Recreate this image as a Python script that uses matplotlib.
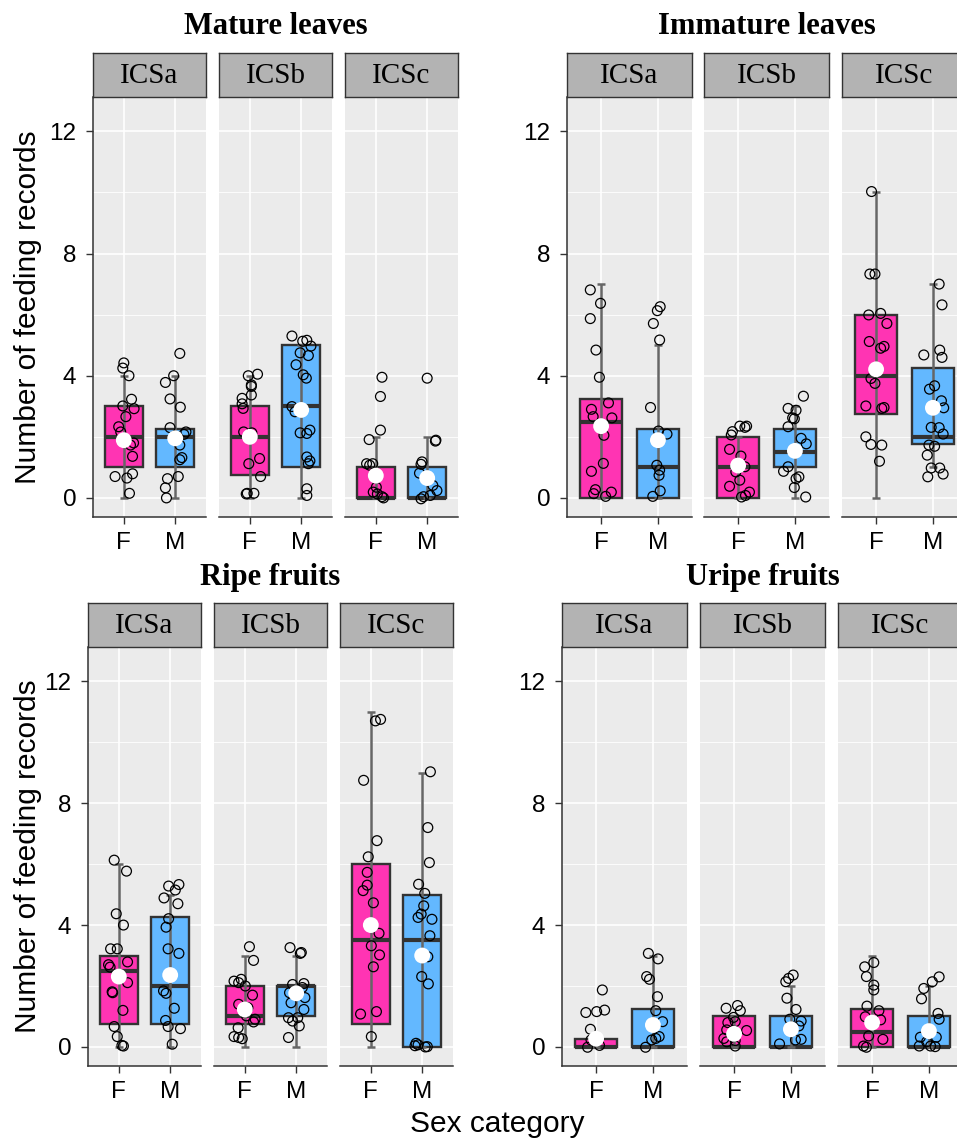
import matplotlib
matplotlib.use("Agg")
import matplotlib.pyplot as plt

W, H, DPI = 957, 1140, 100

sites = ["ICSa", "ICSb", "ICSc"]
sexes = ["F", "M"]
yticks = [0, 4, 8, 12]
yminor = [2, 6, 10]
titles = ["Mature leaves", "Immature leaves", "Ripe fruits", "Uripe fruits"]

# box stats per site: (whisker low, q1, median, q3, whisker high, mean)
mature_F_box = [(0, 1, 2, 3, 4, 1.89), (0, 0.75, 2, 3, 4, 2.0), (0, 0, 0, 1, 2, 0.73)]
mature_M_box = [(0, 1, 2, 2.25, 4, 1.95), (0, 1, 3, 5, 5, 2.88), (0, 0, 0, 1, 2, 0.65)]
immature_F_box = [(0, 0, 2.5, 3.25, 7, 2.35), (0, 0, 1, 2, 2, 1.06), (0, 2.75, 4, 6, 10, 4.21)]
immature_M_box = [(0, 0, 1, 2.25, 5, 1.89), (0, 1, 1.5, 2.25, 3, 1.54), (1, 1.75, 2, 4.25, 7, 2.95)]
ripe_F_box = [(0, 0.75, 2.5, 3, 6, 2.31), (0, 0.75, 1, 2, 3, 1.23), (0, 0.75, 3.5, 6, 11, 4.0)]
ripe_M_box = [(0, 0.75, 2, 4.25, 5, 2.36), (0, 1, 2, 2, 3, 1.76), (0, 0, 3.5, 5, 9, 3.0)]
unripe_F_box = [(0, 0, 0, 0.25, 0.25, 0.27), (0, 0, 0, 1, 1, 0.43), (0, 0, 0.5, 1.25, 3, 0.8)]
unripe_M_box = [(0, 0, 0, 1.25, 3, 0.72), (0, 0, 0, 1, 2, 0.58), (0, 0, 0, 1, 2, 0.52)]

# jittered points (values as drawn) and their horizontal jitter, per site
mature_F_y = [
    [4.42, 4.25, 4.0, 3.23, 3.01, 2.92, 2.66, 2.33, 2.16, 1.80, 1.73, 1.36, 0.70, 0.65, 0.79, 0.15],
    [4.0, 4.05, 3.70, 3.65, 3.37, 3.26, 3.08, 2.93, 2.16, 2.13, 1.12, 1.29, 0.70, 0.15, 0.15, 0.13],
    [3.95, 3.32, 2.22, 1.91, 1.12, 1.12, 1.07, 0.35, 0.13, 0.04, 0.0, 0.19]]
mature_F_dx = [
    [0, -0.02, 0.1, 0.15, -0.02, 0.2, 0.04, -0.1, -0.06, 0.19, 0.13, 0.17, -0.17, 0.06, 0.17, 0.11],
    [-0.03, 0.15, 0.03, 0.03, 0.03, -0.15, -0.15, -0.13, -0.12, 0.04, -0.02, 0.19, 0.21, -0.05, 0.08, -0.07],
    [0.12, 0.09, 0.09, -0.13, -0.18, -0.06, -0.12, 0.01, 0.03, 0.12, 0.15, -0.05]]
mature_M_y = [
    [4.73, 4.0, 3.78, 3.24, 2.97, 2.30, 2.16, 2.08, 1.73, 1.32, 1.25, 0.70, 0.63, 0.33, 0.0],
    [5.30, 5.13, 5.16, 4.97, 4.75, 4.66, 4.36, 4.03, 3.92, 2.99, 2.82, 2.13, 2.22, 2.11, 1.34, 1.21, 1.12, 0.30, 0.08],
    [3.92, 1.89, 1.86, 1.18, 1.10, 0.81, 0.41, 0.24, 0.04, -0.03, 0.08]]
mature_M_dx = [
    [0.09, -0.03, -0.19, -0.10, 0.10, -0.10, 0.21, 0.17, 0.09, 0.13, 0.09, 0.06, -0.15, -0.19, -0.17],
    [-0.18, 0.03, 0.11, 0.19, -0.02, 0.14, -0.10, 0.04, 0.10, -0.18, -0.12, -0.02, 0.17, 0.11, 0.11, 0.17, 0.14, 0.11, 0.11],
    [0.0, 0.17, 0.16, -0.10, -0.12, -0.15, 0.11, 0.19, -0.07, -0.12, 0.06]]

immature_F_y = [
    [6.81, 6.37, 5.87, 4.84, 3.95, 3.11, 2.90, 2.66, 2.62, 2.05, 1.13, 0.87, 0.27, 0.19, 0.14, 0.05],
    [2.35, 2.35, 2.31, 2.17, 2.06, 1.59, 1.37, 1.02, 0.85, 0.58, 0.38, 0.19, 0.08, 0.03],
    [10.03, 7.33, 7.33, 5.99, 6.04, 5.71, 5.12, 4.90, 4.96, 3.91, 3.75, 3.01, 2.93, 2.96, 2.0, 1.75, 1.73, 1.20]]
immature_F_dx = [
    [-0.19, -0.01, -0.19, -0.09, -0.03, 0.13, -0.17, -0.14, 0.19, 0.05, 0.04, -0.17, -0.10, 0.18, -0.13, 0.08],
    [0.03, 0.15, 0.12, -0.10, -0.12, -0.15, 0.05, 0.12, -0.04, 0.03, -0.15, 0.20, 0.13, 0.06],
    [-0.08, -0.11, -0.02, -0.13, 0.08, 0.19, -0.12, 0.08, 0.14, -0.09, -0.02, -0.18, 0.10, 0.14, -0.18, -0.09, 0.10, 0.06]]
immature_M_y = [
    [6.26, 6.13, 5.71, 5.17, 2.96, 2.19, 2.09, 1.07, 0.91, 0.74, 0.23, 0.05],
    [3.33, 2.93, 2.87, 2.62, 2.59, 2.33, 1.95, 1.77, 0.87, 1.02, 0.63, 0.69, 0.34, 0.03],
    [7.0, 6.32, 4.68, 4.84, 4.60, 3.56, 3.67, 3.18, 2.95, 2.31, 2.30, 2.09, 1.69, 1.73, 1.40, 0.98, 0.98, 0.69, 0.78]]
immature_M_dx = [
    [0.04, -0.01, -0.08, 0.03, -0.13, 0.01, 0.16, -0.02, 0.03, 0.02, 0.04, -0.09],
    [0.15, -0.12, 0.02, -0.04, -0.01, -0.12, 0.11, 0.20, -0.20, -0.12, 0.02, 0.07, -0.01, 0.19],
    [0.11, 0.16, -0.16, 0.12, 0.16, -0.06, 0.03, 0.15, 0.19, -0.03, 0.11, 0.18, 0.03, -0.07, -0.10, -0.03, 0.12, -0.09, 0.18]]

ripe_F_y = [
    [6.13, 5.77, 4.37, 4.0, 3.22, 3.22, 2.79, 2.70, 2.62, 2.11, 1.81, 1.78, 1.20, 0.67, 0.34, 0.05, 0.03],
    [3.29, 2.84, 2.16, 2.22, 2.11, 2.0, 1.70, 1.40, 1.29, 1.02, 0.91, 0.82, 0.63, 0.34, 0.31, 0.27],
    [10.75, 10.70, 8.75, 6.77, 6.24, 5.73, 5.31, 5.13, 4.73, 3.73, 3.32, 3.02, 2.63, 1.08, 1.16, 0.34]]
ripe_F_dx = [
    [-0.09, 0.15, -0.05, 0.09, -0.16, -0.03, 0.17, -0.2, -0.17, 0.17, -0.13, -0.12, 0.08, -0.09, -0.03, 0.06, 0.09],
    [0.09, 0.17, -0.21, -0.07, -0.12, 0.01, 0.15, -0.12, 0.06, 0.03, 0.2, 0.17, -0.13, -0.21, -0.12, -0.05],
    [0.19, 0.09, -0.14, 0.12, -0.05, -0.07, -0.07, -0.15, 0.05, 0.16, 0.01, 0.17, 0.05, -0.2, 0.11, 0.01]]
ripe_M_y = [
    [5.33, 5.28, 5.15, 4.89, 4.70, 4.21, 3.93, 3.22, 3.07, 1.84, 1.76, 1.27, 0.87, 0.67, 0.60, 0.09],
    [3.26, 3.07, 3.10, 2.05, 2.08, 1.95, 1.78, 1.62, 1.45, 1.23, 0.96, 0.85, 0.69, 0.96, 0.31],
    [9.03, 7.2, 6.05, 5.34, 5.04, 4.63, 4.36, 4.25, 4.19, 3.65, 2.96, 2.31, 2.07, 0.12, 0.07, 0.0, 0.01, 0.04]]
ripe_M_dx = [
    [0.17, -0.03, 0.10, -0.12, 0.15, -0.03, -0.08, -0.04, 0.17, -0.13, -0.08, 0.08, -0.09, -0.04, 0.20, 0.04],
    [-0.12, 0.08, 0.10, -0.07, 0.15, 0.12, -0.13, 0.17, -0.10, 0.15, -0.15, -0.07, 0.06, 0.03, -0.15],
    [0.16, 0.11, 0.14, -0.07, 0.05, 0.03, -0.02, -0.08, 0.19, 0.15, 0.11, -0.01, 0.12, -0.12, -0.08, 0.06, 0.10, -0.14]]

unripe_F_y = [
    [1.87, 1.13, 1.16, 1.21, 0.58, 0.23, -0.01, 0.05],
    [1.36, 1.27, 1.19, 0.97, 0.80, 0.83, 0.56, 0.54, 0.28, 0.21, 0.03, 0.17],
    [2.77, 2.63, 2.31, 2.03, 1.87, 1.34, 1.19, 0.99, 0.89, 0.36, 0.25, 0.03, -0.01]]
unripe_F_dx = [
    [0.11, -0.18, 0.01, 0.15, -0.1, -0.09, -0.15, 0.06],
    [0.06, -0.14, 0.11, -0.01, -0.11, 0.02, -0.13, 0.22, -0.18, 0.02, 0.02, -0.13],
    [0.03, -0.13, -0.1, 0.03, 0.03, -0.09, 0.12, -0.12, 0.15, -0.06, 0.19, -0.15, -0.1]]
unripe_M_y = [
    [3.07, 2.89, 2.31, 2.22, 1.65, 1.19, 0.83, 0.34, 0.28, 0.23, -0.01],
    [2.36, 2.25, 2.14, 1.60, 1.23, 0.91, 0.85, 0.69, 0.23, 0.10, 0.25],
    [2.30, 2.14, 1.92, 1.58, 1.10, 0.91, 0.32, 0.32, 0.03, 0.01, 0.03, 0.17]]
unripe_M_dx = [
    [-0.08, 0.09, -0.11, -0.06, 0.08, 0.05, 0.17, 0.11, 0.05, -0.02, -0.13],
    [0.04, -0.04, -0.09, -0.07, 0.09, -0.02, 0.18, 0.14, 0.08, -0.2, 0.18],
    [0.18, 0.06, -0.09, -0.13, 0.16, 0.18, -0.15, 0.13, 0.03, 0.11, -0.17, -0.04]]

panels = [
    (mature_F_box, mature_M_box, mature_F_y, mature_F_dx, mature_M_y, mature_M_dx),
    (immature_F_box, immature_M_box, immature_F_y, immature_F_dx, immature_M_y, immature_M_dx),
    (ripe_F_box, ripe_M_box, ripe_F_y, ripe_F_dx, ripe_M_y, ripe_M_dx),
    (unripe_F_box, unripe_M_box, unripe_F_y, unripe_F_dx, unripe_M_y, unripe_M_dx),
]

# layout in pixels: facet x ranges, strip top, panel top, panel bottom
layout = [
    ([(93, 206), (219, 332), (345, 458)], 53, 97, 517),
    ([(567, 692), (704, 829), (842, 967)], 53, 97, 517),
    ([(88, 201), (214, 327), (340, 453)], 603, 647, 1066),
    ([(562, 687), (700, 825), (838, 963)], 603, 647, 1066),
]

FILL = {"F": "#FF34B3", "M": "#63B8FF"}
DARK = "#333333"

plt.rcParams["font.family"] = ["Liberation Sans", "DejaVu Sans"]
fig = plt.figure(figsize=(W / DPI, H / DPI), dpi=DPI)


def rect(x0, x1, y0, y1):
    return [x0 / W, 1 - y1 / H, (x1 - x0) / W, (y1 - y0) / H]


def draw_facet(ax, fb, mb, fy, fdx, my, mdx, first):
    ax.set_facecolor("#EBEBEB")
    ax.set_xlim(0.4, 2.6)
    ax.set_ylim(-0.625, 13.125)
    ax.set_yticks(yticks)
    ax.set_yticks(yminor, minor=True)
    ax.set_xticks([1, 2])
    ax.set_xticklabels(sexes)
    ax.set_axisbelow(True)
    ax.grid(which="major", color="white", lw=1.2)
    ax.grid(which="minor", axis="y", color="white", lw=0.6)
    for s in ["top", "right"]:
        ax.spines[s].set_visible(False)
    ax.spines["bottom"].set_color(DARK)
    ax.spines["bottom"].set_linewidth(1.1)
    ax.spines["left"].set_color(DARK)
    ax.spines["left"].set_linewidth(1.1)
    ax.spines["left"].set_visible(first)
    ax.tick_params(axis="x", length=5, width=1.0, color=DARK, pad=6, labelsize=17.5)
    ax.tick_params(axis="y", which="minor", left=False)
    if first:
        ax.tick_params(axis="y", length=5, width=1.0, color=DARK, pad=7, labelsize=17.5)
    else:
        ax.tick_params(axis="y", left=False, labelleft=False)

    boxes = [fb, mb]
    stats = [dict(whislo=b[0], q1=b[1], med=b[2], q3=b[3], whishi=b[4]) for b in boxes]
    art = ax.bxp(stats, positions=[1, 2], widths=0.75, patch_artist=True,
                 showfliers=False, showcaps=False,
                 boxprops=dict(linewidth=1.7, edgecolor=DARK),
                 medianprops=dict(color=DARK, linewidth=3.0),
                 whiskerprops=dict(linewidth=0), manage_ticks=False)
    for patch, sx in zip(art["boxes"], sexes):
        patch.set_facecolor(FILL[sx])
    for pos, b in zip([1, 2], boxes):
        ax.vlines(pos, b[0], b[4], color="#666666", lw=1.8, zorder=3)
        ax.hlines([b[0], b[4]], pos - 0.075, pos + 0.075, color="#666666", lw=1.8, zorder=3)
    ax.scatter([1 + d for d in fdx], fy, s=50, facecolors="none", edgecolors="black",
               linewidths=0.9, zorder=4, clip_on=False)
    ax.scatter([2 + d for d in mdx], my, s=50, facecolors="none", edgecolors="black",
               linewidths=0.9, zorder=4, clip_on=False)
    ax.scatter([1, 2], [fb[5], mb[5]], s=130, c="white", edgecolors="none", zorder=5)


for (fbox, mbox, fy, fdx, my, mdx), (xs, st, top, bot), title in zip(panels, layout, titles):
    for i, (x0, x1) in enumerate(xs):
        ax = fig.add_axes(rect(x0, x1, top, bot))
        draw_facet(ax, fbox[i], mbox[i], fy[i], fdx[i], my[i], mdx[i], i == 0)
        sax = fig.add_axes(rect(x0, x1, st, top))
        sax.set_facecolor("#B3B3B3")
        sax.set_xticks([])
        sax.set_yticks([])
        for s in sax.spines.values():
            s.set_color(DARK)
            s.set_linewidth(1.0)
        sax.text(0.5, 0.47, sites[i], ha="center", va="center", fontsize=21,
                 family=["Liberation Serif", "DejaVu Serif"], transform=sax.transAxes)
    cx = (xs[0][0] + xs[2][1]) / 2
    fig.text(cx / W, 1 - (st - 26) / H, title, ha="center", va="center", fontsize=22,
             fontweight="bold", family=["Liberation Serif", "DejaVu Serif"])

for yc in [307, 856]:
    fig.text(28 / W, 1 - yc / H, "Number of feeding records", rotation=90,
             ha="center", va="center", fontsize=21.5)
fig.text(497 / W, 1 - 1124 / H, "Sex category", ha="center", va="center", fontsize=21.5)

fig.savefig("out.png", dpi=DPI)
